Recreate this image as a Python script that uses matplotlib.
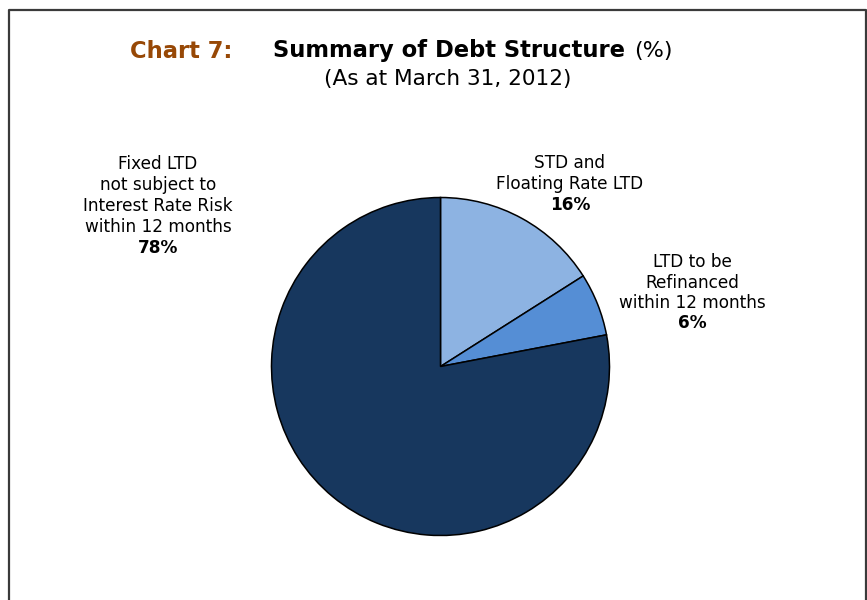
import matplotlib
matplotlib.use("Agg")
import matplotlib.pyplot as plt

categories = ["STD and\nFloating Rate LTD", "LTD to be\nRefinanced\nwithin 12 months",
              "Fixed LTD\nnot subject to\nInterest Rate Risk\nwithin 12 months"]
values = [16, 6, 78]
colors = ["#8DB3E2", "#558ED5", "#17375E"]

W, H = 867, 600
fig = plt.figure(figsize=(W / 100, H / 100), dpi=100)
ax = fig.add_axes([0, 0, 1, 1])
ax.set_xlim(0, W)
ax.set_ylim(0, H)
ax.set_aspect("equal")
ax.axis("off")

font = "DejaVu Sans"

# frame
ax.plot([8.5, 8.5, 865.5, 865.5], [-5, H - 10, H - 10, -5], color="#3a3a3a", lw=1.6, solid_capstyle="butt")

# pie
cx, cy, r = 440.5, H - 366.5, 169
ax.pie(values, colors=colors, startangle=90, counterclock=False, center=(cx, cy), radius=r,
       wedgeprops=dict(edgecolor="black", linewidth=1.1), frame=True)
ax.set_xlim(0, W)
ax.set_ylim(0, H)
ax.axis("off")

# titles
ax.text(232, H - 51, "Chart 7:", ha="right", va="center", fontsize=16.3, fontweight="bold",
        color="#974806", family=font)
ax.text(273, H - 51, "Summary of Debt Structure", ha="left", va="center", fontsize=16.3,
        fontweight="bold", color="black", family=font)
ax.text(673, H - 51, "(%)", ha="right", va="center", fontsize=16, color="black", family=font)
ax.text(448, H - 79, "(As at March 31, 2012)", ha="center", va="center", fontsize=15.6, color="black",
        family=font)

lab_fs = 12.2

def label(x, y_top, text, pct, step=21):
    lines = text.split("\n")
    for i, ln in enumerate(lines):
        ax.text(x, H - (y_top + i * step), ln, ha="center", va="center", fontsize=lab_fs,
                color="black", family=font)
    ax.text(x, H - (y_top + len(lines) * step), pct, ha="center", va="center", fontsize=lab_fs,
            fontweight="bold", color="black", family=font)

label(158, 164, categories[2], f"{values[2]}%")
label(570, 163, categories[0], f"{values[0]}%")
label(692, 262, categories[1], f"{values[1]}%", step=20.5)

fig.savefig("out.png", dpi=100)
